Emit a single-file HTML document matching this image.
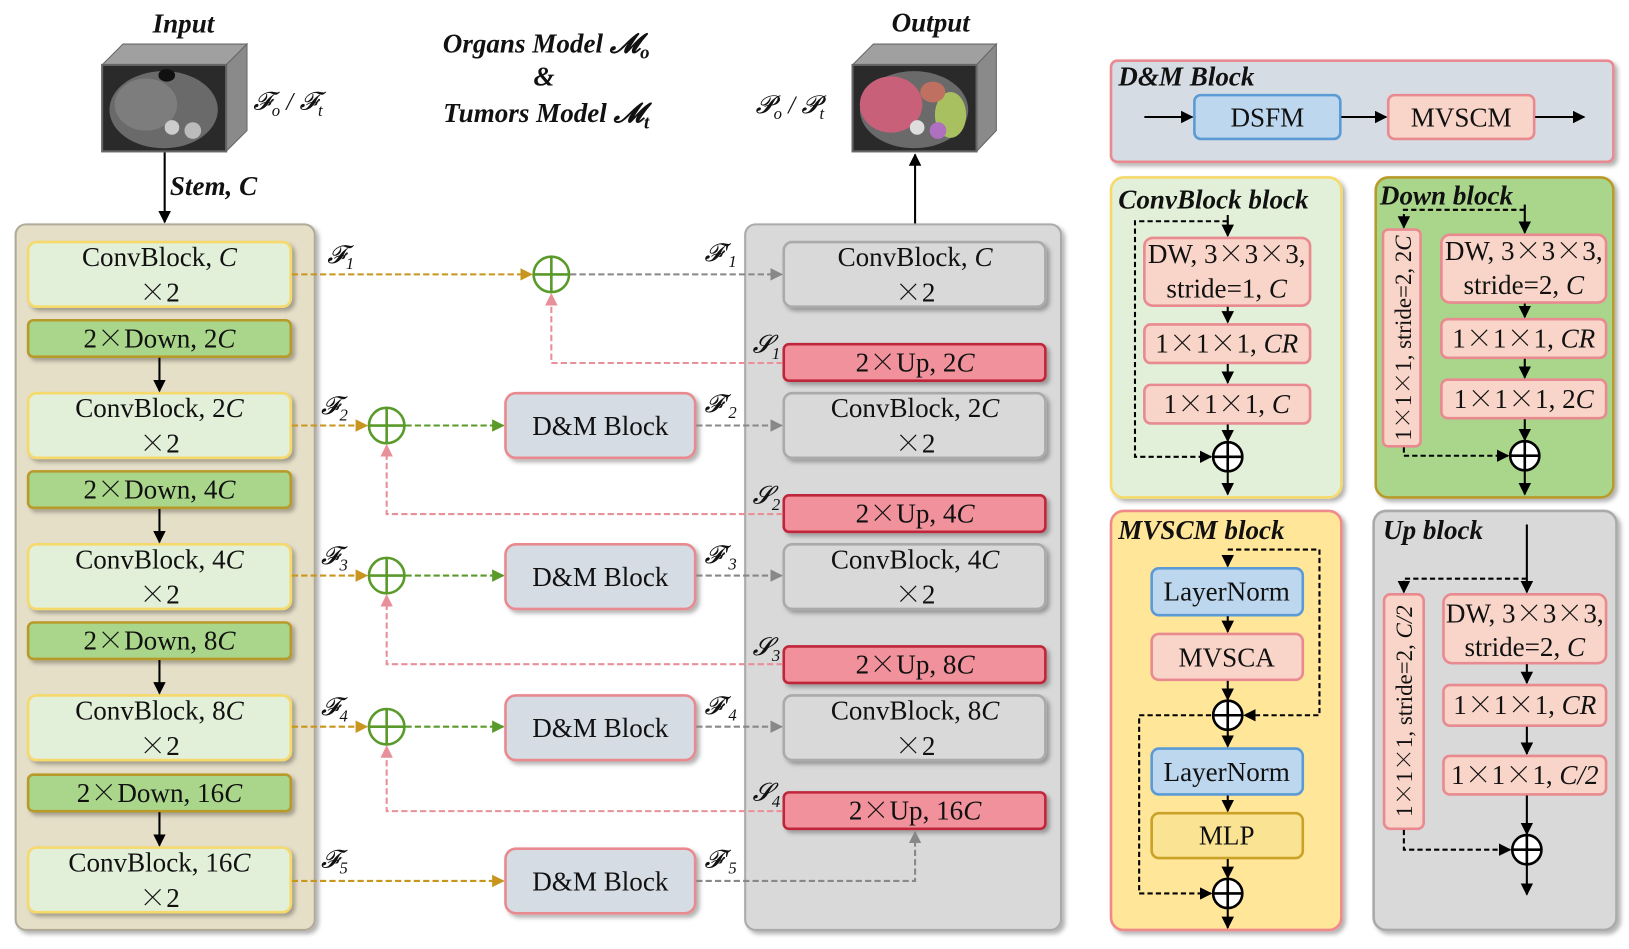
<!DOCTYPE html>
<html><head><meta charset="utf-8"><style>
html,body{margin:0;padding:0;background:#fff;}
svg{display:block;}
text{font-family:"Liberation Serif","Noto Serif CJK SC",serif;}
.t{font-size:26px;text-anchor:middle;fill:#111;}
.h{font-size:26px;font-weight:bold;font-style:italic;fill:#111;}
.i{font-style:italic;}
.x{font-family:"Noto Serif CJK SC","Liberation Serif",serif;}
.lab{font-size:24px;font-style:italic;fill:#111;}
</style></head><body>
<svg width="1629" height="949" viewBox="0 0 1563 910" xmlns="http://www.w3.org/2000/svg" font-family="Liberation Serif, serif">
<defs>
<filter id="sh" x="-10%" y="-10%" width="130%" height="130%"><feDropShadow dx="3" dy="3" stdDeviation="2" flood-color="#000" flood-opacity="0.3"/></filter>
<marker id="mk" viewBox="0 0 10 10" refX="9" refY="5" markerWidth="6" markerHeight="6" orient="auto"><path d="M0,0L10,5L0,10z" fill="#000"/></marker>
<marker id="mo" viewBox="0 0 10 10" refX="9" refY="5" markerWidth="6" markerHeight="6" orient="auto"><path d="M0,0L10,5L0,10z" fill="#c8961e"/></marker>
<marker id="mg" viewBox="0 0 10 10" refX="9" refY="5" markerWidth="6" markerHeight="6" orient="auto"><path d="M0,0L10,5L0,10z" fill="#5a9a2a"/></marker>
<marker id="my" viewBox="0 0 10 10" refX="9" refY="5" markerWidth="6" markerHeight="6" orient="auto"><path d="M0,0L10,5L0,10z" fill="#888"/></marker>
<marker id="mp" viewBox="0 0 10 10" refX="9" refY="5" markerWidth="6" markerHeight="6" orient="auto"><path d="M0,0L10,5L0,10z" fill="#e8909a"/></marker>
</defs>

<!-- titles -->
<text x="176" y="31" class="h" text-anchor="middle">Input</text>
<text x="893" y="30" class="h" text-anchor="middle">Output</text>
<text x="524" y="50" class="h" text-anchor="middle">Organs Model 𝓜<tspan font-size="18" dy="6">o</tspan></text>
<text x="522" y="82" class="h" text-anchor="middle">&amp;</text>
<text x="524" y="117" class="h" text-anchor="middle">Tumors Model 𝓜<tspan font-size="18" dy="6">t</tspan></text>

<!-- input cube -->
<polygon points="98,62 118,42 237,42 217,62" fill="#a0a0a0" stroke="#666"/>
<polygon points="217,62 237,42 237,125 217,145" fill="#8a8a8a" stroke="#666"/>
<rect x="98" y="62" width="119" height="83" fill="#2a2a2a" stroke="#666" stroke-width="2"/>
<ellipse cx="157" cy="105" rx="52" ry="37" fill="#6a6a6a"/>
<ellipse cx="140" cy="100" rx="30" ry="25" fill="#7d7d7d"/>
<circle cx="185" cy="125" r="8" fill="#bbb"/>
<circle cx="165" cy="122" r="7" fill="#ccc"/>
<ellipse cx="160" cy="72" rx="8" ry="6" fill="#111"/>
<text x="243" y="105" class="lab">𝓕<tspan font-size="16" dy="6">o</tspan><tspan dy="-6"> / 𝓕</tspan><tspan font-size="16" dy="6">t</tspan></text>

<!-- output cube -->
<polygon points="818,62 838,42 956,42 937,62" fill="#a0a0a0" stroke="#666"/>
<polygon points="937,62 956,42 956,125 937,145" fill="#8a8a8a" stroke="#666"/>
<rect x="818" y="62" width="119" height="83" fill="#2a2a2a" stroke="#666" stroke-width="2"/>
<ellipse cx="877" cy="105" rx="52" ry="37" fill="#6a6a6a"/>
<ellipse cx="855" cy="100" rx="30" ry="27" fill="#c8607a"/>
<ellipse cx="912" cy="110" rx="15" ry="22" fill="#a8c060"/>
<ellipse cx="895" cy="88" rx="12" ry="10" fill="#c07060"/>
<circle cx="900" cy="125" r="8" fill="#b070c0"/>
<circle cx="880" cy="122" r="7" fill="#ddd"/>
<text x="725" y="108" class="lab">𝓟<tspan font-size="16" dy="6">o</tspan><tspan dy="-6"> / 𝓟</tspan><tspan font-size="16" dy="6">t</tspan></text>

<!-- stem -->
<line x1="158" y1="146" x2="158" y2="213" stroke="#000" stroke-width="2" marker-end="url(#mk)"/>
<text x="163" y="187" class="h">Stem, C</text>
<line x1="878" y1="231" x2="878" y2="148" stroke="#000" stroke-width="2" marker-end="url(#mk)"/>

<!-- panels -->
<rect x="15" y="215" width="287" height="677" rx="10" fill="#e6dfc8" stroke="#b0aa98" stroke-width="2" filter="url(#sh)"/>
<rect x="715" y="215" width="303" height="677" rx="10" fill="#d9d9d9" stroke="#aaa" stroke-width="2" filter="url(#sh)"/>

<!-- encoder blocks -->
<g filter="url(#sh)">
<rect x="27" y="232" width="252" height="62" rx="8" fill="#e3f0d9" stroke="#f5d96b" stroke-width="2.5"/>
<rect x="27" y="377" width="252" height="62" rx="8" fill="#e3f0d9" stroke="#f5d96b" stroke-width="2.5"/>
<rect x="27" y="522" width="252" height="62" rx="8" fill="#e3f0d9" stroke="#f5d96b" stroke-width="2.5"/>
<rect x="27" y="667" width="252" height="62" rx="8" fill="#e3f0d9" stroke="#f5d96b" stroke-width="2.5"/>
<rect x="27" y="813" width="252" height="62" rx="8" fill="#e3f0d9" stroke="#f5d96b" stroke-width="2.5"/>
<rect x="27" y="307" width="252" height="35" rx="5" fill="#a9d68b" stroke="#b89a2a" stroke-width="2.5"/>
<rect x="27" y="452" width="252" height="35" rx="5" fill="#a9d68b" stroke="#b89a2a" stroke-width="2.5"/>
<rect x="27" y="597" width="252" height="35" rx="5" fill="#a9d68b" stroke="#b89a2a" stroke-width="2.5"/>
<rect x="27" y="743" width="252" height="35" rx="5" fill="#a9d68b" stroke="#b89a2a" stroke-width="2.5"/>
</g>
<text x="153" y="255" class="t">ConvBlock, <tspan class="i">C</tspan></text><text x="153" y="289" class="t"><tspan class="x">×</tspan>2</text>
<text x="153" y="400" class="t">ConvBlock, 2<tspan class="i">C</tspan></text><text x="153" y="434" class="t"><tspan class="x">×</tspan>2</text>
<text x="153" y="545" class="t">ConvBlock, 4<tspan class="i">C</tspan></text><text x="153" y="579" class="t"><tspan class="x">×</tspan>2</text>
<text x="153" y="690" class="t">ConvBlock, 8<tspan class="i">C</tspan></text><text x="153" y="724" class="t"><tspan class="x">×</tspan>2</text>
<text x="153" y="836" class="t">ConvBlock, 16<tspan class="i">C</tspan></text><text x="153" y="870" class="t"><tspan class="x">×</tspan>2</text>
<text x="153" y="333" class="t">2<tspan class="x">×</tspan>Down, 2<tspan class="i">C</tspan></text>
<text x="153" y="478" class="t">2<tspan class="x">×</tspan>Down, 4<tspan class="i">C</tspan></text>
<text x="153" y="623" class="t">2<tspan class="x">×</tspan>Down, 8<tspan class="i">C</tspan></text>
<text x="153" y="769" class="t">2<tspan class="x">×</tspan>Down, 16<tspan class="i">C</tspan></text>
<g stroke="#000" stroke-width="2">
<line x1="153" y1="343" x2="153" y2="375" marker-end="url(#mk)"/>
<line x1="153" y1="488" x2="153" y2="520" marker-end="url(#mk)"/>
<line x1="153" y1="633" x2="153" y2="665" marker-end="url(#mk)"/>
<line x1="153" y1="779" x2="153" y2="811" marker-end="url(#mk)"/>
</g>

<!-- decoder blocks -->
<g filter="url(#sh)">
<rect x="752" y="232" width="251" height="62" rx="8" fill="#d9d9d9" stroke="#aaa" stroke-width="2.5"/>
<rect x="752" y="377" width="251" height="62" rx="8" fill="#d9d9d9" stroke="#aaa" stroke-width="2.5"/>
<rect x="752" y="522" width="251" height="62" rx="8" fill="#d9d9d9" stroke="#aaa" stroke-width="2.5"/>
<rect x="752" y="667" width="251" height="62" rx="8" fill="#d9d9d9" stroke="#aaa" stroke-width="2.5"/>
<rect x="752" y="330" width="251" height="35" rx="5" fill="#f0919b" stroke="#c0283a" stroke-width="2.5"/>
<rect x="752" y="475" width="251" height="35" rx="5" fill="#f0919b" stroke="#c0283a" stroke-width="2.5"/>
<rect x="752" y="620" width="251" height="35" rx="5" fill="#f0919b" stroke="#c0283a" stroke-width="2.5"/>
<rect x="752" y="760" width="251" height="35" rx="5" fill="#f0919b" stroke="#c0283a" stroke-width="2.5"/>
<rect x="485" y="377" width="182" height="62" rx="10" fill="#d6dce4" stroke="#e88a90" stroke-width="2.5"/>
<rect x="485" y="522" width="182" height="62" rx="10" fill="#d6dce4" stroke="#e88a90" stroke-width="2.5"/>
<rect x="485" y="667" width="182" height="62" rx="10" fill="#d6dce4" stroke="#e88a90" stroke-width="2.5"/>
<rect x="485" y="814" width="182" height="62" rx="10" fill="#d6dce4" stroke="#e88a90" stroke-width="2.5"/>
</g>
<text x="878" y="255" class="t">ConvBlock, <tspan class="i">C</tspan></text><text x="878" y="289" class="t"><tspan class="x">×</tspan>2</text>
<text x="878" y="400" class="t">ConvBlock, 2<tspan class="i">C</tspan></text><text x="878" y="434" class="t"><tspan class="x">×</tspan>2</text>
<text x="878" y="545" class="t">ConvBlock, 4<tspan class="i">C</tspan></text><text x="878" y="579" class="t"><tspan class="x">×</tspan>2</text>
<text x="878" y="690" class="t">ConvBlock, 8<tspan class="i">C</tspan></text><text x="878" y="724" class="t"><tspan class="x">×</tspan>2</text>
<text x="878" y="356" class="t">2<tspan class="x">×</tspan>Up, 2<tspan class="i">C</tspan></text>
<text x="878" y="501" class="t">2<tspan class="x">×</tspan>Up, 4<tspan class="i">C</tspan></text>
<text x="878" y="646" class="t">2<tspan class="x">×</tspan>Up, 8<tspan class="i">C</tspan></text>
<text x="878" y="786" class="t">2<tspan class="x">×</tspan>Up, 16<tspan class="i">C</tspan></text>
<text x="576" y="417" class="t">D&amp;M Block</text>
<text x="576" y="562" class="t">D&amp;M Block</text>
<text x="576" y="707" class="t">D&amp;M Block</text>
<text x="576" y="854" class="t">D&amp;M Block</text>

<!-- connectors -->
<g fill="none" stroke-width="2" stroke-dasharray="6,3">
<line x1="280" y1="263" x2="510" y2="263" stroke="#c8961e" marker-end="url(#mo)"/>
<line x1="280" y1="408" x2="352" y2="408" stroke="#c8961e" marker-end="url(#mo)"/>
<line x1="280" y1="552" x2="352" y2="552" stroke="#c8961e" marker-end="url(#mo)"/>
<line x1="280" y1="697" x2="352" y2="697" stroke="#c8961e" marker-end="url(#mo)"/>
<line x1="280" y1="845" x2="483" y2="845" stroke="#c8961e" marker-end="url(#mo)"/>
<line x1="389" y1="408" x2="483" y2="408" stroke="#5a9a2a" marker-end="url(#mg)"/>
<line x1="389" y1="552" x2="483" y2="552" stroke="#5a9a2a" marker-end="url(#mg)"/>
<line x1="389" y1="697" x2="483" y2="697" stroke="#5a9a2a" marker-end="url(#mg)"/>
<line x1="547" y1="263" x2="750" y2="263" stroke="#888" marker-end="url(#my)"/>
<line x1="668" y1="408" x2="750" y2="408" stroke="#888" marker-end="url(#my)"/>
<line x1="668" y1="552" x2="750" y2="552" stroke="#888" marker-end="url(#my)"/>
<line x1="668" y1="697" x2="750" y2="697" stroke="#888" marker-end="url(#my)"/>
<polyline points="668,845 878,845 878,798" stroke="#888" marker-end="url(#my)"/>
<polyline points="751,348 529,348 529,282" stroke="#e8909a" marker-end="url(#mp)"/>
<polyline points="751,493 371,493 371,427" stroke="#e8909a" marker-end="url(#mp)"/>
<polyline points="751,637 371,637 371,571" stroke="#e8909a" marker-end="url(#mp)"/>
<polyline points="751,778 371,778 371,716" stroke="#e8909a" marker-end="url(#mp)"/>
</g>
<g fill="#fff" stroke="#5a9a2a" stroke-width="2.5">
<circle cx="529" cy="263" r="17"/><path d="M512,263H546M529,246V280"/>
<circle cx="371" cy="408" r="17"/><path d="M354,408H388M371,391V425"/>
<circle cx="371" cy="552" r="17"/><path d="M354,552H388M371,535V569"/>
<circle cx="371" cy="697" r="17"/><path d="M354,697H388M371,680V714"/>
</g>
<g>
<text x="314" y="252" class="lab">𝓕<tspan font-size="16" dy="6">1</tspan></text>
<text x="308" y="397" class="lab">𝓕<tspan font-size="16" dy="6">2</tspan></text>
<text x="308" y="541" class="lab">𝓕<tspan font-size="16" dy="6">3</tspan></text>
<text x="308" y="686" class="lab">𝓕<tspan font-size="16" dy="6">4</tspan></text>
<text x="308" y="832" class="lab">𝓕<tspan font-size="16" dy="6">5</tspan></text>
<text x="676" y="250" class="lab">𝓕'<tspan font-size="16" dy="6">1</tspan></text>
<text x="676" y="395" class="lab">𝓕'<tspan font-size="16" dy="6">2</tspan></text>
<text x="676" y="540" class="lab">𝓕'<tspan font-size="16" dy="6">3</tspan></text>
<text x="676" y="685" class="lab">𝓕'<tspan font-size="16" dy="6">4</tspan></text>
<text x="676" y="832" class="lab">𝓕'<tspan font-size="16" dy="6">5</tspan></text>
<text x="722" y="338" class="lab">𝓢<tspan font-size="16" dy="6">1</tspan></text>
<text x="722" y="483" class="lab">𝓢<tspan font-size="16" dy="6">2</tspan></text>
<text x="722" y="628" class="lab">𝓢<tspan font-size="16" dy="6">3</tspan></text>
<text x="722" y="768" class="lab">𝓢<tspan font-size="16" dy="6">4</tspan></text>
</g>

<!-- right panels -->
<g filter="url(#sh)">
<rect x="1066" y="58" width="482" height="97" rx="6" fill="#d6dce4" stroke="#e88a90" stroke-width="2.5"/>
<rect x="1066" y="170" width="221" height="307" rx="12" fill="#e3f0d9" stroke="#f5d96b" stroke-width="2.5"/>
<rect x="1320" y="170" width="228" height="307" rx="12" fill="#a9d68b" stroke="#b89a2a" stroke-width="2.5"/>
<rect x="1066" y="490" width="221" height="402" rx="12" fill="#ffe699" stroke="#f08a8a" stroke-width="2.5"/>
<rect x="1318" y="490" width="233" height="402" rx="12" fill="#d9d9d9" stroke="#aaa" stroke-width="2.5"/>
</g>
<text x="1073" y="82" class="h">D&amp;M Block</text>
<text x="1073" y="200" class="h">ConvBlock block</text>
<text x="1324" y="196" class="h">Down block</text>
<text x="1073" y="517" class="h">MVSCM block</text>
<text x="1327" y="517" class="h">Up block</text>

<g stroke-width="2.5">
<rect x="1146" y="91" width="140" height="42" rx="6" fill="#bdd7ee" stroke="#5b9bd5"/>
<rect x="1332" y="91" width="140" height="42" rx="6" fill="#f8d5c8" stroke="#e88a90"/>
<rect x="1098" y="228" width="159" height="65" rx="8" fill="#f8d5c8" stroke="#e88a90"/>
<rect x="1098" y="311" width="159" height="37" rx="6" fill="#f8d5c8" stroke="#e88a90"/>
<rect x="1098" y="369" width="159" height="37" rx="6" fill="#f8d5c8" stroke="#e88a90"/>
<rect x="1327" y="220" width="36" height="208" rx="5" fill="#f8d5c8" stroke="#e88a90"/>
<rect x="1383" y="225" width="158" height="65" rx="8" fill="#f8d5c8" stroke="#e88a90"/>
<rect x="1383" y="306" width="158" height="37" rx="6" fill="#f8d5c8" stroke="#e88a90"/>
<rect x="1383" y="364" width="158" height="37" rx="6" fill="#f8d5c8" stroke="#e88a90"/>
<rect x="1105" y="545" width="145" height="45" rx="7" fill="#bdd7ee" stroke="#5b9bd5"/>
<rect x="1105" y="608" width="145" height="44" rx="7" fill="#f8d5c8" stroke="#e88a90"/>
<rect x="1105" y="718" width="145" height="44" rx="7" fill="#bdd7ee" stroke="#5b9bd5"/>
<rect x="1105" y="780" width="145" height="43" rx="7" fill="#fbe394" stroke="#c9a227"/>
<rect x="1328" y="570" width="38" height="225" rx="6" fill="#f8d5c8" stroke="#e88a90"/>
<rect x="1385" y="570" width="156" height="66" rx="8" fill="#f8d5c8" stroke="#e88a90"/>
<rect x="1385" y="657" width="156" height="39" rx="6" fill="#f8d5c8" stroke="#e88a90"/>
<rect x="1385" y="725" width="156" height="37" rx="6" fill="#f8d5c8" stroke="#e88a90"/>
</g>
<text x="1216" y="121" class="t">DSFM</text>
<text x="1402" y="121" class="t">MVSCM</text>
<text x="1177" y="252" class="t">DW, 3<tspan class="x">×</tspan>3<tspan class="x">×</tspan>3,</text><text x="1177" y="285" class="t">stride=1, <tspan class="i">C</tspan></text>
<text x="1177" y="338" class="t">1<tspan class="x">×</tspan>1<tspan class="x">×</tspan>1, <tspan class="i">CR</tspan></text>
<text x="1177" y="396" class="t">1<tspan class="x">×</tspan>1<tspan class="x">×</tspan>1, <tspan class="i">C</tspan></text>
<text x="1462" y="249" class="t">DW, 3<tspan class="x">×</tspan>3<tspan class="x">×</tspan>3,</text><text x="1462" y="282" class="t">stride=2, <tspan class="i">C</tspan></text>
<text x="1462" y="333" class="t">1<tspan class="x">×</tspan>1<tspan class="x">×</tspan>1, <tspan class="i">CR</tspan></text>
<text x="1462" y="391" class="t">1<tspan class="x">×</tspan>1<tspan class="x">×</tspan>1, 2<tspan class="i">C</tspan></text>
<text transform="translate(1354,324) rotate(-90)" class="t" style="font-size:22px">1<tspan class="x">×</tspan>1<tspan class="x">×</tspan>1, stride=2, 2<tspan class="i">C</tspan></text>
<text x="1177" y="576" class="t">LayerNorm</text>
<text x="1177" y="639" class="t">MVSCA</text>
<text x="1177" y="749" class="t">LayerNorm</text>
<text x="1177" y="810" class="t">MLP</text>
<text x="1463" y="597" class="t">DW, 3<tspan class="x">×</tspan>3<tspan class="x">×</tspan>3,</text><text x="1463" y="629" class="t">stride=2, <tspan class="i">C</tspan></text>
<text x="1463" y="685" class="t">1<tspan class="x">×</tspan>1<tspan class="x">×</tspan>1, <tspan class="i">CR</tspan></text>
<text x="1463" y="752" class="t">1<tspan class="x">×</tspan>1<tspan class="x">×</tspan>1, <tspan class="i">C/2</tspan></text>
<text transform="translate(1355,682) rotate(-90)" class="t" style="font-size:22px">1<tspan class="x">×</tspan>1<tspan class="x">×</tspan>1, stride=2, <tspan class="i">C/2</tspan></text>

<!-- right arrows -->
<g stroke="#000" stroke-width="2" fill="none">
<line x1="1098" y1="112" x2="1144" y2="112" marker-end="url(#mk)"/>
<line x1="1287" y1="112" x2="1330" y2="112" marker-end="url(#mk)"/>
<line x1="1473" y1="112" x2="1520" y2="112" marker-end="url(#mk)"/>
<line x1="1178" y1="206" x2="1178" y2="226" marker-end="url(#mk)"/>
<line x1="1178" y1="294" x2="1178" y2="309" marker-end="url(#mk)"/>
<line x1="1178" y1="349" x2="1178" y2="367" marker-end="url(#mk)"/>
<line x1="1178" y1="407" x2="1178" y2="423" marker-end="url(#mk)"/>
<line x1="1178" y1="453" x2="1178" y2="474" marker-end="url(#mk)"/>
<line x1="1463" y1="196" x2="1463" y2="223" marker-end="url(#mk)"/>
<line x1="1463" y1="291" x2="1463" y2="304" marker-end="url(#mk)"/>
<line x1="1463" y1="344" x2="1463" y2="362" marker-end="url(#mk)"/>
<line x1="1463" y1="402" x2="1463" y2="422" marker-end="url(#mk)"/>
<line x1="1463" y1="452" x2="1463" y2="474" marker-end="url(#mk)"/>
<line x1="1178" y1="536" x2="1178" y2="543" marker-end="url(#mk)"/>
<line x1="1178" y1="591" x2="1178" y2="606" marker-end="url(#mk)"/>
<line x1="1178" y1="653" x2="1178" y2="671" marker-end="url(#mk)"/>
<line x1="1178" y1="701" x2="1178" y2="716" marker-end="url(#mk)"/>
<line x1="1178" y1="763" x2="1178" y2="778" marker-end="url(#mk)"/>
<line x1="1178" y1="824" x2="1178" y2="842" marker-end="url(#mk)"/>
<line x1="1178" y1="872" x2="1178" y2="890" marker-end="url(#mk)"/>
<line x1="1465" y1="503" x2="1465" y2="568" marker-end="url(#mk)"/>
<line x1="1465" y1="637" x2="1465" y2="655" marker-end="url(#mk)"/>
<line x1="1465" y1="697" x2="1465" y2="723" marker-end="url(#mk)"/>
<line x1="1465" y1="763" x2="1465" y2="800" marker-end="url(#mk)"/>
<line x1="1465" y1="830" x2="1465" y2="858" marker-end="url(#mk)"/>
</g>
<g stroke="#000" stroke-width="2" fill="none" stroke-dasharray="5,3">
<polyline points="1178,212 1089,212 1089,438 1162,438" marker-end="url(#mk)"/>
<polyline points="1463,201 1347,201 1347,218" marker-end="url(#mk)"/>
<polyline points="1347,429 1347,437 1447,437" marker-end="url(#mk)"/>
<polyline points="1178,527 1266,527 1266,686 1194,686" marker-end="url(#mk)"/>
<polyline points="1178,686 1093,686 1093,857 1162,857" marker-end="url(#mk)"/>
<polyline points="1465,555 1347,555 1347,568" marker-end="url(#mk)"/>
<polyline points="1347,796 1347,815 1449,815" marker-end="url(#mk)"/>
</g>
<g fill="#fff" stroke="#000" stroke-width="2.5">
<circle cx="1178" cy="438" r="14"/><path d="M1164,438H1192M1178,424V452"/>
<circle cx="1463" cy="437" r="14"/><path d="M1449,437H1477M1463,423V451"/>
<circle cx="1178" cy="686" r="14"/><path d="M1164,686H1192M1178,672V700"/>
<circle cx="1178" cy="857" r="14"/><path d="M1164,857H1192M1178,843V871"/>
<circle cx="1465" cy="815" r="14"/><path d="M1451,815H1479M1465,801V829"/>
</g>
</svg>
</body></html>
